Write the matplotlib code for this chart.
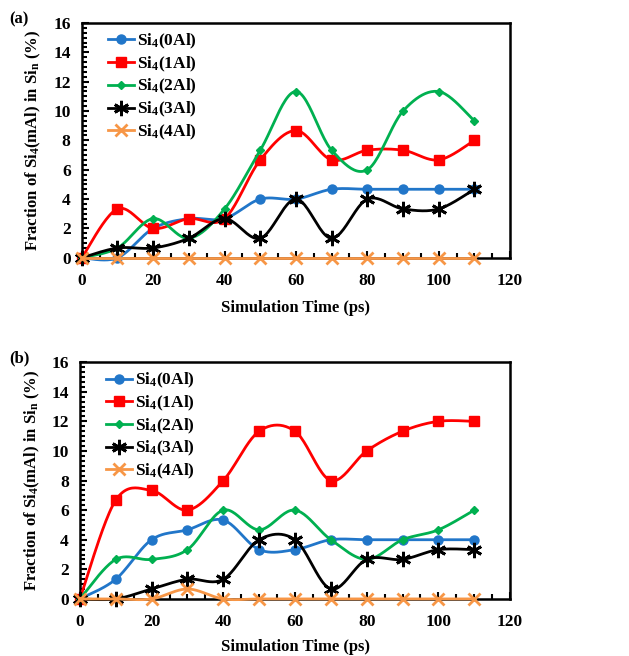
import matplotlib
matplotlib.use("Agg")
import matplotlib.pyplot as plt
from matplotlib.ticker import MultipleLocator
import numpy as np

plt.rcParams["font.family"] = ["Liberation Serif", "DejaVu Serif"]
plt.rcParams["font.weight"] = "bold"
plt.rcParams["axes.labelweight"] = "bold"
plt.rcParams["font.size"] = 12
plt.rcParams["mathtext.fontset"] = "custom"
plt.rcParams["mathtext.rm"] = "Liberation Serif:bold"
plt.rcParams["mathtext.it"] = "Liberation Serif:bold"
plt.rcParams["mathtext.bf"] = "Liberation Serif:bold"
plt.rcParams["mathtext.default"] = "rm"

TIME_PS = [0, 10, 20, 30, 40, 50, 60, 70, 80, 90, 100, 110]
LABELS = ["Si$_4$(0Al)", "Si$_4$(1Al)", "Si$_4$(2Al)", "Si$_4$(3Al)", "Si$_4$(4Al)"]

# panel (a)
A_0AL = [0, 0, 2.0, 2.67, 2.67, 4.0, 4.0, 4.67, 4.67, 4.67, 4.67, 4.67]
A_1AL = [0, 3.33, 2.0, 2.67, 2.67, 6.67, 8.67, 6.67, 7.33, 7.33, 6.67, 8.0]
A_2AL = [0, 0.67, 2.67, 1.33, 3.33, 7.33, 11.33, 7.33, 6.0, 10.0, 11.33, 9.33]
A_3AL = [0, 0.67, 0.67, 1.33, 2.67, 1.33, 4.0, 1.33, 4.0, 3.33, 3.33, 4.67]
A_4AL = [0, 0, 0, 0, 0, 0, 0, 0, 0, 0, 0, 0]

# panel (b)
B_0AL = [0, 1.33, 4.0, 4.67, 5.33, 3.33, 3.33, 4.0, 4.0, 4.0, 4.0, 4.0]
B_1AL = [0, 6.67, 7.33, 6.0, 8.0, 11.33, 11.33, 8.0, 10.0, 11.33, 12.0, 12.0]
B_2AL = [0, 2.67, 2.67, 3.33, 6.0, 4.67, 6.0, 4.0, 2.67, 4.0, 4.67, 6.0]
B_3AL = [0, 0, 0.67, 1.33, 1.33, 4.0, 4.0, 0.67, 2.67, 2.67, 3.33, 3.33]
B_4AL = [0, 0, 0, 0.67, 0, 0, 0, 0, 0, 0, 0, 0]

STYLES = [
    dict(color="#2176C9", marker="o", ms=6.5, mew=1),
    dict(color="#FF0000", marker="s", ms=7, mew=1),
    dict(color="#00B050", marker="D", ms=4.5, mew=1),
    dict(color="black", marker=(6, 2, 0), ms=11, mew=2),
    dict(color="#F79646", marker="x", ms=9, mew=2),
]


def excel_smooth(x, y, n=24):
    # bezier curves through the points, like excel's "smoothed line"
    pts = np.column_stack([x, y]).astype(float)
    ext = np.vstack([pts[0], pts, pts[-1]])
    t = np.linspace(0, 1, n + 1)[:, None]
    segs = []
    for i in range(len(pts) - 1):
        p0, p1, p2, p3 = ext[i], ext[i + 1], ext[i + 2], ext[i + 3]
        c1 = p1 + (p2 - p0) / 6
        c2 = p2 - (p3 - p1) / 6
        seg = ((1 - t) ** 3 * p1 + 3 * (1 - t) ** 2 * t * c1
               + 3 * (1 - t) * t ** 2 * c2 + t ** 3 * p2)
        segs.append(seg if i == 0 else seg[1:])
    curve = np.vstack(segs)
    return curve[:, 0], curve[:, 1], list(range(0, len(curve), n))


def draw_panel(ax, series, tag, xlabel_pad):
    for values, label, style in zip(series, LABELS, STYLES):
        cx, cy, marks = excel_smooth(TIME_PS, values)
        ax.plot(cx, cy, color=style["color"], lw=2, marker=style["marker"],
                ms=style["ms"], mew=style["mew"], markevery=marks,
                label=label, clip_on=False, zorder=3)
    ax.set_xlim(0, 120)
    ax.set_ylim(0, 16)
    ax.xaxis.set_major_locator(MultipleLocator(20))
    ax.xaxis.set_minor_locator(MultipleLocator(5))
    ax.yaxis.set_major_locator(MultipleLocator(2))
    ax.yaxis.set_minor_locator(MultipleLocator(1 / 3))
    ax.tick_params(which="both", direction="in", width=1.5, top=False, right=False)
    ax.tick_params(which="major", length=5)
    ax.tick_params(axis="x", which="major", pad=11, labelsize=12.5)
    ax.tick_params(axis="y", which="major", pad=8, labelsize=12.5)
    ax.tick_params(which="minor", length=3.5)
    for spine in ax.spines.values():
        spine.set_linewidth(1.8)
    ax.set_xlabel("Simulation Time (ps)", labelpad=xlabel_pad)
    ax.set_ylabel("Fraction of Si$_4$(mAl) in Si$_n$ (%)", labelpad=7)
    ax.legend(loc="upper left", bbox_to_anchor=(0.035, 1.01), frameon=False,
              handlelength=1.5, handletextpad=0.15, labelspacing=0.2,
              borderaxespad=0.25, fontsize=12.5)
    ax.figure.text(0.014, ax.get_position().y1 + 0.005, tag, ha="left", va="center")


fig = plt.figure(figsize=(6.29, 6.56), dpi=100)
ax_a = fig.add_axes([0.130, 0.607, 0.681, 0.358])
ax_b = fig.add_axes([0.127, 0.087, 0.684, 0.361])
draw_panel(ax_a, [A_0AL, A_1AL, A_2AL, A_3AL, A_4AL], "(a)", 8)
draw_panel(ax_b, [B_0AL, B_1AL, B_2AL, B_3AL, B_4AL], "(b)", 6)

fig.savefig("out.png", dpi=100)
